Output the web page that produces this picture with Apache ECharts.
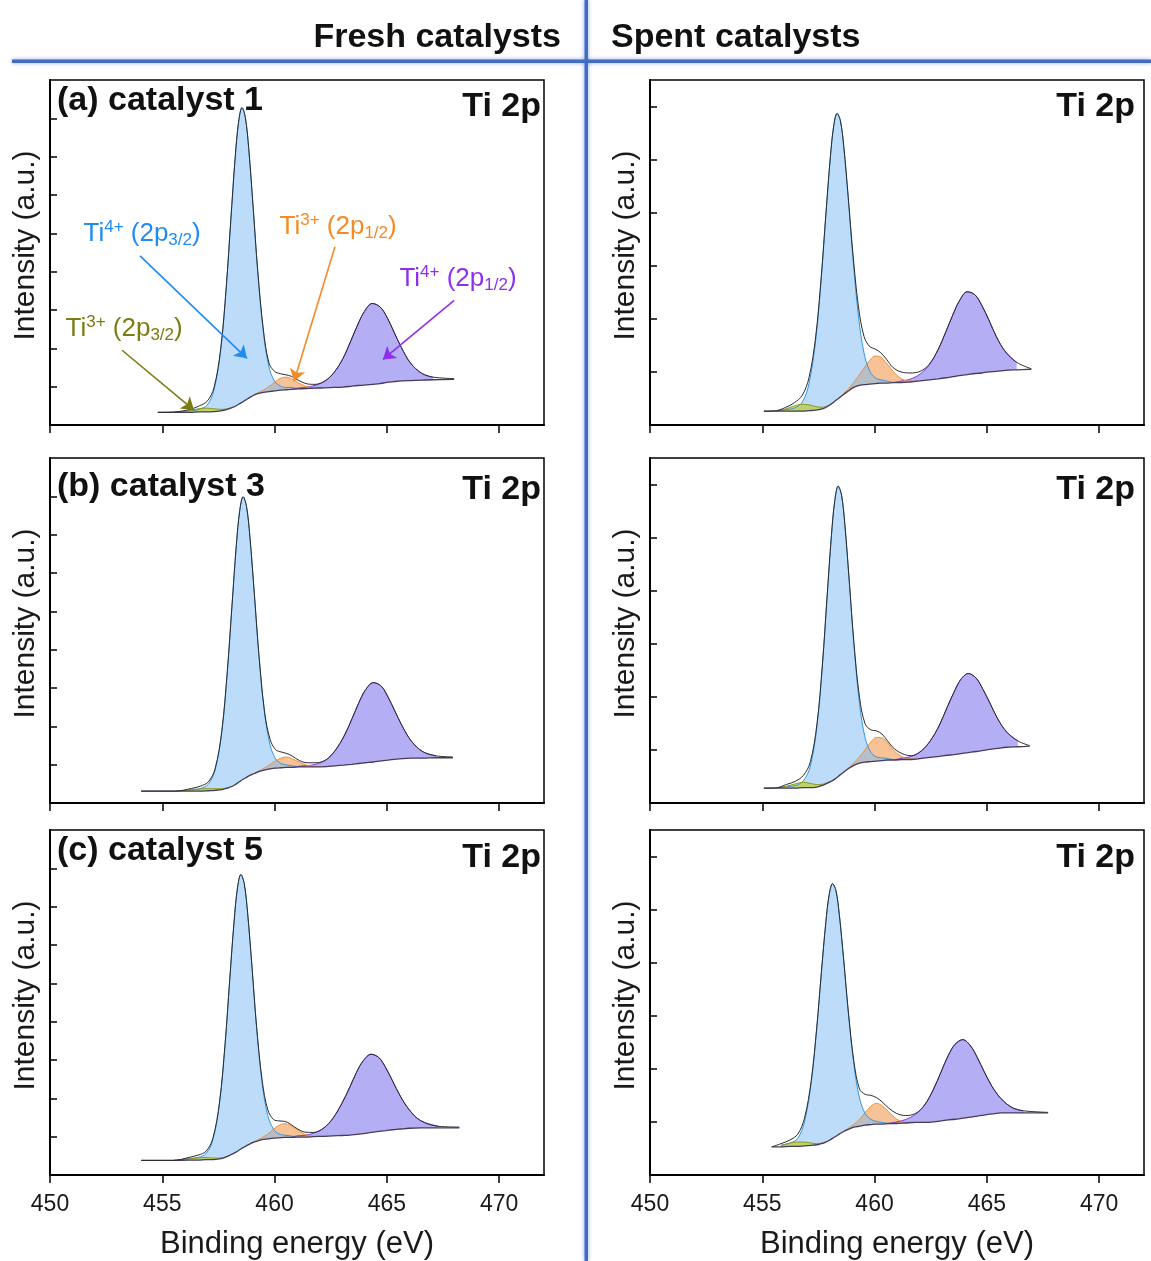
<!DOCTYPE html>
<html>
<head>
<meta charset="utf-8">
<title>Ti 2p XPS - fresh and spent catalysts</title>
<script src="https://cdn.jsdelivr.net/npm/echarts@6.0.0/dist/echarts.min.js"></script>
<style>
  html, body { margin: 0; padding: 0; background: #fff; }
  #chart { width: 1151px; height: 1261px; }
</style>
</head>
<body>
<div id="chart"></div>
<script>
const _ = null;

// axis ticks
const xTicks = [450, 455, 460, 465, 470];
const leftYTicks = [1, 2, 3, 4, 5, 6, 7, 8];
const rightYTicks = [1, 2, 3, 4, 5, 6];

// ---- (a) fresh catalyst 1 ----
const fresh1Energy = [454.8, 455.55, 456.25, 456.65, 457.0, 457.3, 457.6, 457.85, 458.05, 458.25,
  458.4, 458.55, 458.7, 458.85, 459.05, 459.25, 459.5, 459.75, 460.0, 460.25,
  460.5, 460.75, 461.05, 461.4, 461.8, 462.25, 462.65, 463.05, 463.4, 463.7,
  464.0, 464.35, 464.7, 465.0, 465.3, 465.65, 466.05, 466.55, 467.05, 468.0];
const fresh1Background = [0.33, 0.33, 0.33, 0.34, 0.34, 0.35, 0.37, 0.40, 0.44, 0.49,
  0.54, 0.59, 0.65, 0.70, 0.77, 0.82, 0.85, 0.87, 0.89, 0.91,
  0.92, 0.93, 0.94, 0.95, 0.96, 0.97, 0.98, 0.99, 1.01, 1.03,
  1.04, 1.06, 1.08, 1.11, 1.13, 1.15, 1.16, 1.17, 1.18, 1.19];
const fresh1Envelope = [0.33, 0.34, 0.41, 0.50, 0.62, 0.97, 1.98, 3.61, 5.33, 7.00,
  7.91, 8.28, 8.02, 7.21, 5.66, 4.03, 2.50, 1.62, 1.40, 1.34,
  1.31, 1.27, 1.17, 1.08, 1.06, 1.15, 1.37, 1.74, 2.20, 2.61,
  2.96, 3.17, 3.08, 2.82, 2.45, 2.02, 1.62, 1.35, 1.25, 1.21];
const fresh1Ti4p32 = [_, 0, 0.04, 0.07, 0.18, 0.55, 1.57, 3.19, 4.88, 6.51,
  7.37, 7.69, 7.37, 6.51, 4.88, 3.19, 1.57, 0.65, 0.25, 0.11,
  0.06, 0.05, 0, _, _, _, _, _, _, _,
  _, _, _, _, _, _, _, _, _, _];
const fresh1Ti3p32 = [_, 0, 0.044, 0.089, 0.098, 0.074, 0.039, 0.018, 0.008, 0,
  _, _, _, _, _, _, _, _, _, _,
  _, _, _, _, _, _, _, _, _, _,
  _, _, _, _, _, _, _, _, _, _];
const fresh1Ti3p12 = [_, _, _, _, _, _, _, _, _, _,
  _, _, _, 0, 0.008, 0.021, 0.058, 0.128, 0.223, 0.306,
  0.328, 0.278, 0.165, 0.058, 0.010, 0, _, _, _, _,
  _, _, _, _, _, _, _, _, _, _];
const fresh1Ti4p12 = [_, _, _, _, _, _, _, _, _, _,
  _, _, _, _, _, _, _, _, _, _,
  _, 0, 0.024, 0.036, 0.072, 0.18, 0.39, 0.75, 1.19, 1.58,
  1.92, 2.11, 2.00, 1.71, 1.32, 0.87, 0.46, 0.18, 0.065, _];

// ---- (b) fresh catalyst 3 ----
const fresh3Energy = [454.06, 454.9, 455.6, 456.3, 456.7, 457.05, 457.35, 457.65, 457.9, 458.1,
  458.3, 458.45, 458.6, 458.75, 458.9, 459.1, 459.3, 459.55, 459.8, 460.05,
  460.3, 460.55, 460.8, 461.1, 461.45, 461.85, 462.3, 462.7, 463.1, 463.45,
  463.75, 464.05, 464.4, 464.75, 465.05, 465.35, 465.7, 466.1, 466.6, 467.2,
  467.94];
const fresh3Background = [0.31, 0.31, 0.31, 0.31, 0.31, 0.32, 0.33, 0.35, 0.39, 0.43,
  0.50, 0.56, 0.62, 0.67, 0.72, 0.77, 0.82, 0.86, 0.89, 0.91,
  0.92, 0.93, 0.93, 0.94, 0.94, 0.94, 0.95, 0.97, 0.99, 1.01,
  1.03, 1.05, 1.07, 1.10, 1.12, 1.14, 1.16, 1.17, 1.17, 1.18,
  1.18];
const fresh3Envelope = [0.31, 0.31, 0.31, 0.38, 0.44, 0.55, 0.89, 1.87, 3.46, 5.11,
  6.74, 7.63, 7.99, 7.74, 6.96, 5.46, 3.90, 2.41, 1.66, 1.39,
  1.33, 1.29, 1.22, 1.11, 1.05, 1.05, 1.13, 1.37, 1.75, 2.20,
  2.61, 2.95, 3.14, 3.05, 2.77, 2.41, 1.99, 1.61, 1.34, 1.23,
  1.20];
const fresh3Ti4p32 = [_, _, 0, 0.04, 0.07, 0.17, 0.52, 1.50, 3.06, 4.68,
  6.24, 7.07, 7.37, 7.07, 6.24, 4.68, 3.06, 1.50, 0.63, 0.24,
  0.11, 0.06, 0.04, 0, _, _, _, _, _, _,
  _, _, _, _, _, _, _, _, _, _,
  _];
const fresh3Ti3p32 = [_, _, 0, 0.03, 0.056, 0.057, 0.041, 0.02, 0.009, 0,
  _, _, _, _, _, _, _, _, _, _,
  _, _, _, _, _, _, _, _, _, _,
  _, _, _, _, _, _, _, _, _, _,
  _];
const fresh3Ti3p12 = [_, _, _, _, _, _, _, _, _, _,
  _, _, _, _, 0, 0.007, 0.019, 0.053, 0.113, 0.192,
  0.255, 0.267, 0.219, 0.126, 0.042, 0.007, 0, _, _, _,
  _, _, _, _, _, _, _, _, _, _,
  _];
const fresh3Ti4p12 = [_, _, _, _, _, _, _, _, _, _,
  _, _, _, _, _, _, _, _, _, _,
  _, _, 0, 0.02, 0.036, 0.072, 0.18, 0.40, 0.76, 1.19,
  1.58, 1.90, 2.07, 1.95, 1.65, 1.27, 0.83, 0.44, 0.17, 0.05,
  _];

// ---- (c) fresh catalyst 5 ----
const fresh5Energy = [454.06, 454.8, 455.5, 456.2, 456.6, 456.95, 457.25, 457.55, 457.8, 458.0,
  458.2, 458.35, 458.5, 458.65, 458.8, 459.0, 459.2, 459.45, 459.7, 459.95,
  460.2, 460.45, 460.7, 461.0, 461.35, 461.75, 462.2, 462.6, 463.0, 463.35,
  463.65, 463.95, 464.3, 464.65, 464.95, 465.25, 465.6, 466.0, 466.5, 467.3,
  468.23];
const fresh5Background = [0.38, 0.38, 0.38, 0.39, 0.39, 0.40, 0.40, 0.42, 0.46, 0.51,
  0.57, 0.62, 0.68, 0.73, 0.78, 0.84, 0.88, 0.92, 0.94, 0.96,
  0.97, 0.98, 0.98, 0.99, 0.99, 1.00, 1.01, 1.02, 1.03, 1.04,
  1.06, 1.08, 1.11, 1.14, 1.16, 1.18, 1.20, 1.22, 1.23, 1.23,
  1.23];
const fresh5Envelope = [0.38, 0.38, 0.38, 0.46, 0.52, 0.62, 0.95, 1.90, 3.44, 5.06,
  6.63, 7.49, 7.84, 7.60, 6.84, 5.40, 3.87, 2.46, 1.70, 1.45,
  1.41, 1.40, 1.33, 1.21, 1.12, 1.11, 1.23, 1.48, 1.87, 2.29,
  2.68, 2.98, 3.15, 3.06, 2.80, 2.46, 2.06, 1.70, 1.42, 1.27,
  1.25];
const fresh5Ti4p32 = [_, _, 0, 0.04, 0.07, 0.16, 0.51, 1.46, 2.97, 4.55,
  6.06, 6.87, 7.16, 6.87, 6.06, 4.55, 2.97, 1.46, 0.61, 0.24,
  0.10, 0.06, 0.04, 0, _, _, _, _, _, _,
  _, _, _, _, _, _, _, _, _, _,
  _];
const fresh5Ti3p32 = [_, _, 0, 0.03, 0.056, 0.057, 0.041, 0.02, 0.009, 0,
  _, _, _, _, _, _, _, _, _, _,
  _, _, _, _, _, _, _, _, _, _,
  _, _, _, _, _, _, _, _, _, _,
  _];
const fresh5Ti3p12 = [_, _, _, _, _, _, _, _, _, _,
  _, _, _, _, 0, 0.007, 0.019, 0.057, 0.129, 0.231,
  0.325, 0.36, 0.313, 0.193, 0.071, 0.013, 0, _, _, _,
  _, _, _, _, _, _, _, _, _, _,
  _];
const fresh5Ti4p12 = [_, _, _, _, _, _, _, _, _, _,
  _, _, _, _, _, _, _, _, _, _,
  _, _, 0, 0.03, 0.045, 0.094, 0.22, 0.46, 0.84, 1.25,
  1.62, 1.90, 2.04, 1.92, 1.64, 1.28, 0.86, 0.48, 0.19, 0.04,
  _];

// ---- spent catalyst 1 ----
const spent1Energy = [455.07, 455.63, 456.03, 456.43, 456.78, 457.08, 457.38, 457.63, 457.83, 458.03,
  458.18, 458.33, 458.48, 458.63, 458.83, 459.03, 459.28, 459.53, 459.78, 460.03,
  460.28, 460.53, 460.83, 461.18, 461.58, 462.03, 462.43, 462.83, 463.18, 463.48,
  463.78, 464.13, 464.48, 464.78, 465.08, 465.43, 465.83, 466.33, 466.98];
const spent1Background = [0.26, 0.26, 0.26, 0.26, 0.26, 0.27, 0.28, 0.30, 0.33, 0.38,
  0.43, 0.48, 0.53, 0.58, 0.64, 0.70, 0.74, 0.76, 0.77, 0.78,
  0.79, 0.79, 0.80, 0.80, 0.81, 0.83, 0.85, 0.87, 0.89, 0.91,
  0.93, 0.95, 0.97, 0.98, 1.00, 1.01, 1.03, 1.04, 1.05];
const spent1Envelope = [0.26, 0.27, 0.33, 0.42, 0.56, 0.89, 1.67, 2.81, 3.96, 5.04,
  5.63, 5.87, 5.73, 5.25, 4.29, 3.26, 2.24, 1.67, 1.48, 1.43,
  1.36, 1.24, 1.08, 1.00, 0.98, 1.01, 1.14, 1.42, 1.76, 2.07,
  2.34, 2.51, 2.45, 2.25, 1.99, 1.66, 1.38, 1.18, 1.06];
const spent1Ti4p32 = [_, 0, 0.03, 0.06, 0.17, 0.51, 1.32, 2.48, 3.61, 4.65,
  5.20, 5.39, 5.20, 4.65, 3.61, 2.48, 1.32, 0.60, 0.25, 0.11,
  0.06, 0.04, 0, _, _, _, _, _, _, _,
  _, _, _, _, _, _, _, _, _];
const spent1Ti3p32 = [_, 0.009, 0.042, 0.10, 0.13, 0.11, 0.068, 0.034, 0.017, 0.007,
  0, _, _, _, _, _, _, _, _, _,
  _, _, _, _, _, _, _, _, _, _,
  _, _, _, _, _, _, _, _, _];
const spent1Ti3p12 = [_, _, _, _, _, _, _, _, _, _,
  _, _, 0, 0.016, 0.038, 0.082, 0.177, 0.311, 0.444, 0.52,
  0.49, 0.379, 0.212, 0.074, 0.014, 0, _, _, _, _,
  _, _, _, _, _, _, _, _, _];
const spent1Ti4p12 = [_, _, _, _, _, _, _, _, _, _,
  _, _, _, _, _, _, _, _, _, _,
  _, _, 0, 0.027, 0.052, 0.13, 0.28, 0.55, 0.87, 1.16,
  1.41, 1.56, 1.48, 1.27, 0.99, 0.65, 0.35, 0.14, _];

// ---- spent catalyst 3 ----
const spent3Energy = [455.07, 455.68, 456.08, 456.48, 456.83, 457.13, 457.43, 457.68, 457.88, 458.08,
  458.23, 458.38, 458.53, 458.68, 458.88, 459.08, 459.33, 459.58, 459.83, 460.08,
  460.33, 460.58, 460.88, 461.23, 461.63, 462.08, 462.48, 462.88, 463.23, 463.53,
  463.83, 464.18, 464.53, 464.83, 465.13, 465.48, 465.88, 466.38, 466.91];
const spent3Background = [0.28, 0.28, 0.28, 0.28, 0.29, 0.29, 0.30, 0.33, 0.37, 0.41,
  0.45, 0.50, 0.55, 0.60, 0.66, 0.71, 0.75, 0.77, 0.78, 0.79,
  0.80, 0.81, 0.81, 0.82, 0.82, 0.84, 0.86, 0.88, 0.90, 0.91,
  0.93, 0.95, 0.97, 0.99, 1.01, 1.03, 1.05, 1.06, 1.07];
const spent3Envelope = [0.28, 0.29, 0.35, 0.41, 0.52, 0.76, 1.47, 2.62, 3.85, 5.04,
  5.70, 5.97, 5.80, 5.24, 4.15, 3.03, 1.99, 1.49, 1.38, 1.36,
  1.30, 1.17, 1.02, 0.93, 0.89, 0.98, 1.17, 1.46, 1.80, 2.08,
  2.32, 2.44, 2.35, 2.14, 1.89, 1.59, 1.34, 1.17, 1.08];
const spent3Ti4p32 = [_, 0, 0.03, 0.05, 0.13, 0.39, 1.12, 2.27, 3.47, 4.63,
  5.25, 5.47, 5.25, 4.63, 3.47, 2.27, 1.12, 0.46, 0.18, 0.08,
  0.05, 0.03, 0, _, _, _, _, _, _, _,
  _, _, _, _, _, _, _, _, _];
const spent3Ti3p32 = [_, 0.009, 0.037, 0.082, 0.10, 0.081, 0.047, 0.023, 0.011, 0.004,
  0, _, _, _, _, _, _, _, _, _,
  _, _, _, _, _, _, _, _, _, _,
  _, _, _, _, _, _, _, _, _];
const spent3Ti3p12 = [_, _, _, _, _, _, _, _, _, _,
  _, _, 0, 0.007, 0.019, 0.048, 0.119, 0.236, 0.365, 0.445,
  0.426, 0.32, 0.167, 0.05, 0.007, 0, _, _, _, _,
  _, _, _, _, _, _, _, _, _];
const spent3Ti4p12 = [_, _, _, _, _, _, _, _, _, _,
  _, _, _, _, _, _, _, _, _, _,
  _, _, 0, 0.027, 0.057, 0.14, 0.31, 0.58, 0.90, 1.17,
  1.39, 1.49, 1.38, 1.15, 0.88, 0.56, 0.29, 0.11, _];

// ---- spent catalyst 5 ----
const spent5Energy = [455.42, 455.83, 456.23, 456.58, 456.88, 457.18, 457.43, 457.63, 457.83, 457.98,
  458.13, 458.28, 458.43, 458.63, 458.83, 459.08, 459.33, 459.58, 459.83, 460.08,
  460.33, 460.63, 460.98, 461.38, 461.83, 462.23, 462.63, 462.98, 463.28, 463.58,
  463.93, 464.28, 464.58, 464.88, 465.23, 465.63, 466.13, 466.63, 467.73];
const spent5Background = [0.53, 0.53, 0.54, 0.54, 0.55, 0.56, 0.57, 0.59, 0.62, 0.65,
  0.69, 0.73, 0.77, 0.82, 0.86, 0.90, 0.92, 0.94, 0.95, 0.96,
  0.96, 0.97, 0.97, 0.98, 0.99, 0.99, 1.00, 1.02, 1.04, 1.05,
  1.07, 1.09, 1.11, 1.13, 1.15, 1.17, 1.17, 1.17, 1.17];
const spent5Envelope = [0.53, 0.59, 0.66, 0.77, 1.07, 1.78, 2.80, 3.81, 4.76, 5.28,
  5.49, 5.36, 4.91, 4.04, 3.09, 2.14, 1.62, 1.52, 1.50, 1.46,
  1.38, 1.26, 1.16, 1.12, 1.16, 1.32, 1.62, 1.96, 2.25, 2.46,
  2.55, 2.43, 2.21, 1.95, 1.67, 1.44, 1.27, 1.21, 1.18];
const spent5Ti4p32 = [_, 0.03, 0.06, 0.15, 0.45, 1.18, 2.21, 3.21, 4.14, 4.63,
  4.80, 4.63, 4.14, 3.21, 2.21, 1.18, 0.53, 0.22, 0.10, 0.05,
  0.03, 0, _, _, _, _, _, _, _, _,
  _, _, _, _, _, _, _, _, _];
const spent5Ti3p32 = [_, 0.026, 0.061, 0.08, 0.069, 0.042, 0.021, 0.01, 0.004, 0,
  _, _, _, _, _, _, _, _, _, _,
  _, _, _, _, _, _, _, _, _, _,
  _, _, _, _, _, _, _, _, _];
const spent5Ti3p12 = [_, _, _, _, _, _, _, _, _, _,
  _, _, 0, 0.007, 0.018, 0.055, 0.128, 0.236, 0.342, 0.39,
  0.349, 0.222, 0.085, 0.016, 0, _, _, _, _, _,
  _, _, _, _, _, _, _, _, _];
const spent5Ti4p12 = [_, _, _, _, _, _, _, _, _, _,
  _, _, _, _, _, _, _, _, _, _,
  _, 0, 0.03, 0.065, 0.155, 0.33, 0.62, 0.94, 1.21, 1.41,
  1.48, 1.34, 1.10, 0.82, 0.52, 0.27, 0.10, 0.04, _];

// annotation arrows in panel (a): label anchor, arrow tail, arrow head (eV, a.u.)
const annoCharge = ['4+', '3+', '4+', '3+'];
const annoOrbital = ['3/2', '1/2', '1/2', '3/2'];
const annoLabelAt = [[454.10, 4.98], [462.83, 5.17], [468.17, 3.82], [453.30, 2.52]];
const annoFrom = [[454.01, 4.41], [462.69, 4.65], [468.0, 3.25], [453.21, 1.95]];
const annoTo = [[458.77, 1.74], [460.87, 1.14], [464.83, 1.71], [456.41, 0.39]];
const annoColor = ['#1e8cf0', '#f68a26', '#8e2ff0', '#7c7c12'];

const FONT = "'Liberation Sans', Arial, Helvetica, sans-serif";
const NARROW = "'Liberation Sans Narrow', 'Arial Narrow', 'Liberation Sans', sans-serif";
const SMOOTH = 0.35;

const panels = [
  { energy: fresh1Energy, bg: fresh1Background, env: fresh1Envelope, ti4p32: fresh1Ti4p32, ti3p32: fresh1Ti3p32, ti3p12: fresh1Ti3p12, ti4p12: fresh1Ti4p12 },
  { energy: fresh3Energy, bg: fresh3Background, env: fresh3Envelope, ti4p32: fresh3Ti4p32, ti3p32: fresh3Ti3p32, ti3p12: fresh3Ti3p12, ti4p12: fresh3Ti4p12 },
  { energy: fresh5Energy, bg: fresh5Background, env: fresh5Envelope, ti4p32: fresh5Ti4p32, ti3p32: fresh5Ti3p32, ti3p12: fresh5Ti3p12, ti4p12: fresh5Ti4p12 },
  { energy: spent1Energy, bg: spent1Background, env: spent1Envelope, ti4p32: spent1Ti4p32, ti3p32: spent1Ti3p32, ti3p12: spent1Ti3p12, ti4p12: spent1Ti4p12 },
  { energy: spent3Energy, bg: spent3Background, env: spent3Envelope, ti4p32: spent3Ti4p32, ti3p32: spent3Ti3p32, ti3p12: spent3Ti3p12, ti4p12: spent3Ti4p12 },
  { energy: spent5Energy, bg: spent5Background, env: spent5Envelope, ti4p32: spent5Ti4p32, ti3p32: spent5Ti3p32, ti3p12: spent5Ti3p12, ti4p12: spent5Ti4p12 }
];

// fitted components, back to front
const comps = [
  { key: 'ti4p12', fill: 'rgba(119,108,235,0.55)', line: '#7b3ae4' },
  { key: 'ti3p12', fill: 'rgba(239,133,45,0.5)', line: '#f0903c' },
  { key: 'ti4p32', fill: 'rgba(121,185,245,0.5)', line: '#3596e2' },
  { key: 'ti3p32', fill: 'rgba(188,205,13,0.6)', line: '#8e9a1c' }
];

const gridPos = [
  { left: 50, top: 80 }, { left: 50, top: 458 }, { left: 50, top: 830 },
  { left: 650, top: 80 }, { left: 650, top: 458 }, { left: 650, top: 830 }
];

const grid = gridPos.map(g => ({
  left: g.left, top: g.top, width: 494, height: 345,
  show: true, borderColor: '#000', borderWidth: 1.5, backgroundColor: 'transparent'
}));

const xAxis = gridPos.map((g, i) => {
  const bottom = i === 2 || i === 5;
  return {
    type: 'value', gridIndex: i, min: 450, max: 472,
    axisLine: { show: true, onZero: false, lineStyle: { color: '#000', width: 2 } },
    axisTick: { show: true, inside: false, length: 8, customValues: xTicks, lineStyle: { color: '#000', width: 1.5 } },
    axisLabel: { show: bottom, customValues: xTicks, margin: 18, fontSize: 23, fontFamily: NARROW, color: '#1a1a1a' },
    splitLine: { show: false },
    name: bottom ? 'Binding energy (eV)' : '',
    nameLocation: 'middle', nameGap: 54,
    nameTextStyle: { fontSize: 31, fontFamily: FONT, color: '#1a1a1a' }
  };
});

const yAxis = gridPos.map((g, i) => {
  const left = i < 3;
  return {
    type: 'value', gridIndex: i, min: 0, max: left ? 9 : 6.5,
    axisLine: { show: true, onZero: false, lineStyle: { color: '#000', width: 2 } },
    axisTick: { show: true, inside: true, length: 7, customValues: left ? leftYTicks : rightYTicks, lineStyle: { color: '#000', width: 1.5 } },
    axisLabel: { show: false },
    splitLine: { show: false },
    name: 'Intensity (a.u.)', nameLocation: 'middle', nameGap: 9, nameRotate: 90,
    nameTextStyle: { fontSize: 30, fontFamily: FONT, color: '#1a1a1a', padding: [0, 0, 0, 14] }
  };
});

const series = [];
panels.forEach((p, i) => {
  // each fitted peak sits on the background: plot background + peak
  comps.forEach(c => {
    const comp = p[c.key];
    series.push({
      type: 'line', xAxisIndex: i, yAxisIndex: i,
      data: p.energy.map((x, k) => [x, comp[k] == null ? null : p.bg[k] + comp[k]]),
      smooth: SMOOTH, symbol: 'none', silent: true,
      lineStyle: { color: c.line, width: 1 },
      areaStyle: { color: c.fill, opacity: 1, origin: 0.1 }, z: 2
    });
  });
  // background: white below it hides the peak fills under the baseline
  series.push({
    type: 'line', xAxisIndex: i, yAxisIndex: i,
    data: p.energy.map((x, k) => [x, p.bg[k]]), smooth: SMOOTH,
    symbol: 'none', silent: true, lineStyle: { color: '#463a5e', width: 1.3 },
    areaStyle: { color: '#ffffff', opacity: 1, origin: 0.04 }, z: 3
  });
  const env = {
    type: 'line', xAxisIndex: i, yAxisIndex: i,
    data: p.energy.map((x, k) => [x, p.env[k]]), smooth: SMOOTH,
    symbol: 'none', silent: true, lineStyle: { color: '#2b2b2b', width: 1 }, z: 4
  };
  if (i === 0) {
    env.markLine = {
      silent: true, animation: false, symbol: ['none', 'arrow'], symbolSize: 12,
      label: { show: false },
      data: annoFrom.map((f, k) => [
        { coord: f, lineStyle: { color: annoColor[k], width: 1.6, type: 'solid' } },
        { coord: annoTo[k] }
      ])
    };
    env.markPoint = {
      silent: true, animation: false, symbol: 'circle', symbolSize: 1,
      itemStyle: { color: 'rgba(0,0,0,0)' },
      data: annoLabelAt.map((c, k) => ({
        coord: c,
        label: {
          show: true, position: 'inside',
          formatter: '{m|Ti}{s|' + annoCharge[k] + '}{m| (2p}{d|' + annoOrbital[k] + '}{m|)}',
          rich: {
            m: { fontSize: 26, lineHeight: 30, fontFamily: FONT, color: annoColor[k] },
            s: { fontSize: 17, lineHeight: 17, verticalAlign: 'top', fontFamily: FONT, color: annoColor[k] },
            d: { fontSize: 17, lineHeight: 17, verticalAlign: 'bottom', fontFamily: FONT, color: annoColor[k] }
          }
        }
      }))
    };
  }
  series.push(env);
});

const bold = { fontSize: 34, fontWeight: 'bold', fontFamily: FONT, color: '#111' };
const title = [
  { text: 'Fresh catalysts', right: 590, top: 21, padding: 0, textStyle: bold },
  { text: 'Spent catalysts', left: 611, top: 21, padding: 0, textStyle: bold },
  { text: '(a) catalyst 1', left: 57, top: 84, padding: 0, textStyle: bold },
  { text: '(b) catalyst 3', left: 57, top: 470, padding: 0, textStyle: bold },
  { text: '(c) catalyst 5', left: 57, top: 834, padding: 0, textStyle: bold },
  { text: 'Ti 2p', right: 610, top: 90, padding: 0, textStyle: bold },
  { text: 'Ti 2p', right: 610, top: 473, padding: 0, textStyle: bold },
  { text: 'Ti 2p', right: 610, top: 841, padding: 0, textStyle: bold },
  { text: 'Ti 2p', right: 16, top: 90, padding: 0, textStyle: bold },
  { text: 'Ti 2p', right: 16, top: 473, padding: 0, textStyle: bold },
  { text: 'Ti 2p', right: 16, top: 841, padding: 0, textStyle: bold }
];

const chart = echarts.init(document.getElementById('chart'));
chart.setOption({
  animation: false,
  backgroundColor: '#fff',
  textStyle: { fontFamily: FONT },
  title: title,
  grid: grid,
  xAxis: xAxis,
  yAxis: yAxis,
  series: series,
  graphic: [
    // divider lines between the two columns
    { type: 'rect', z: 100, shape: { x: 12, y: 59.5, width: 1139, height: 3.5 },
      style: { fill: '#3f6dc3', shadowBlur: 4, shadowColor: 'rgba(63,109,195,0.6)' } },
    { type: 'rect', z: 100, shape: { x: 584.5, y: 0, width: 3.5, height: 1261 },
      style: { fill: '#3f6dc3', shadowBlur: 4, shadowColor: 'rgba(63,109,195,0.6)' } }
  ]
});
</script>
</body>
</html>
